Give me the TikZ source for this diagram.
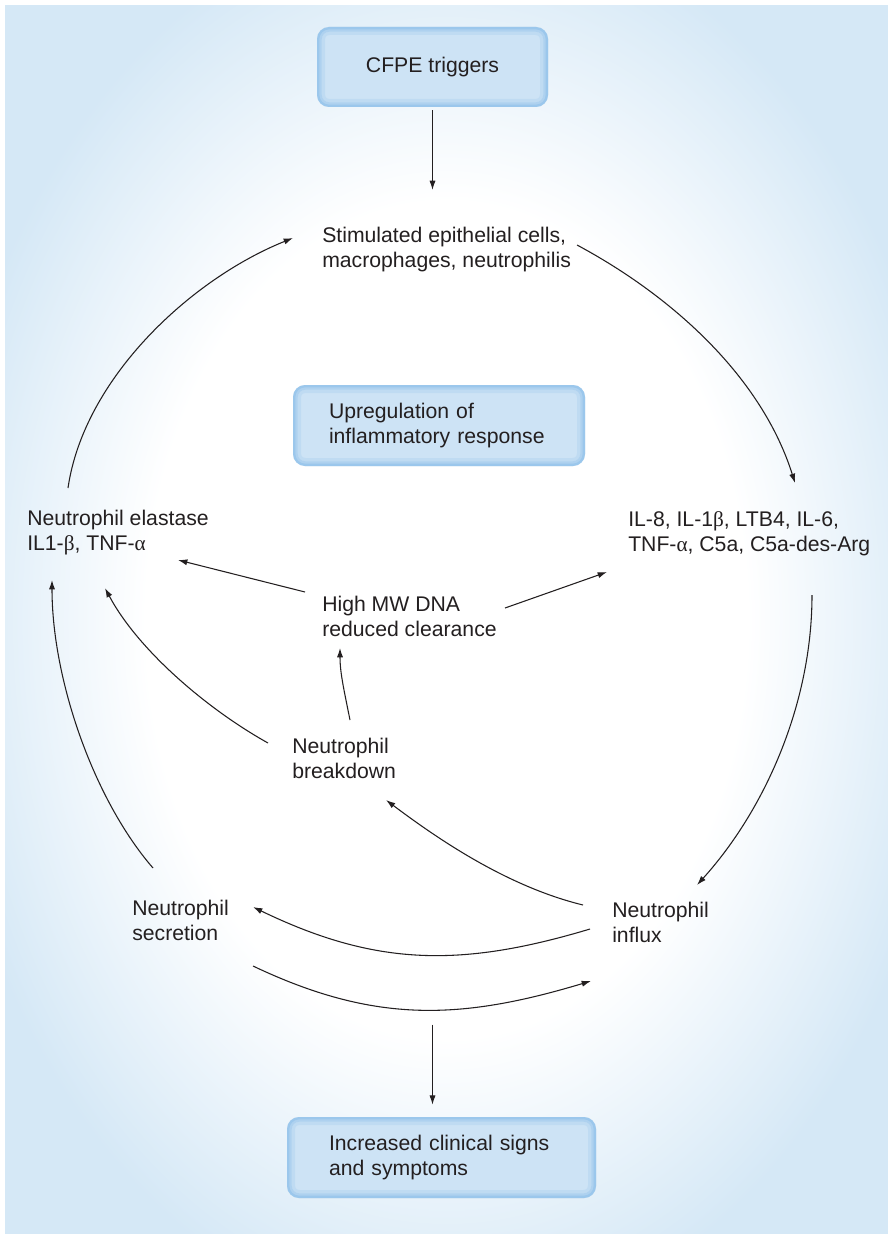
\documentclass[tikz,border=0pt]{standalone}
\usepackage{fontspec}
\setmainfont{Liberation Sans}
\newfontfamily\grkfont{Liberation Serif}
\usetikzlibrary{arrows.meta}
\definecolor{bgblue}{RGB}{213,232,246}
\definecolor{boxfill}{RGB}{205,227,245}
\definecolor{boxedge}{RGB}{115,178,230}
\definecolor{txt}{RGB}{35,31,32}
\pgfdeclareradialshading{bgshade}{\pgfpoint{0bp}{0bp}}{color(0bp)=(white); color(17bp)=(white); color(29bp)=(bgblue); color(50bp)=(bgblue)}
\newcommand{\gbeta}{{\grkfont β}}
\newcommand{\galpha}{{\grkfont α}}
\begin{document}
\begin{tikzpicture}[x=0.75pt,y=-0.75pt,
  every node/.style={text=txt, font=\fontsize{15.9}{18.75}\selectfont},
  lbl/.style={anchor=north west, align=left, inner sep=0pt},
  box/.style={rounded corners=9pt, fill=boxfill, inner sep=0pt,
    path picture={
      \foreach \w/\o in {12pt/0.15, 7pt/0.22, 3.5pt/0.32}
        \draw[boxedge, line width=\w, opacity=\o, rounded corners=9pt]
          (path picture bounding box.south west) rectangle (path picture bounding box.north east);
    }},
  arr/.style={-{Latex[length=7pt,width=4.6pt]}, line width=0.8pt, txt}]
\useasboundingbox (0,0) rectangle (888,1234);
\fill[white] (0,0) rectangle (888,1234);
\shade[shading=bgshade] (5,6) rectangle (888,1234);

% boxes
\node[box, minimum width=173.25pt, minimum height=60pt] (cfpe) at (432.5,67) {CFPE triggers};
\node[box, minimum width=219pt, minimum height=60.75pt, text width=165pt, align=left] (upreg) at (439,425.5) {Upregulation of\\inflammatory response};
\node[box, minimum width=231.75pt, minimum height=60.75pt, text width=168.75pt, align=left] (incr) at (441.5,1157.5) {Increased clinical signs\\and symptoms};

% labels
\node[lbl] (stim) at (322,226.5) {Stimulated epithelial cells,\\macrophages, neutrophilis};
\node[lbl] (elast) at (27,510) {Neutrophil elastase\\IL1-\gbeta, TNF-\galpha};
\node[lbl] (cyt) at (628,511) {IL-8, IL-1\gbeta, LTB4, IL-6,\\TNF-\galpha, C5a, C5a-des-Arg};
\node[lbl] (dna) at (322,596) {High MW DNA\\reduced clearance};
\node[lbl] (brk) at (292,738) {Neutrophil\\breakdown};
\node[lbl] (sec) at (132,900) {Neutrophil\\secretion};
\node[lbl] (inf) at (612,902) {Neutrophil\\influx};

% connectors
\draw[arr] ([shift={(0,3)}]cfpe.south) -- ([shift={(110.5,-36.5)}]stim.north west);
\draw[arr] ([shift={(255,18.5)}]stim.north west) .. controls +(97,52) and +(-33,-105) .. ([shift={(167,-28)}]cyt.north west);
\draw[arr] ([shift={(184,84)}]cyt.north west) .. controls +(0,110) and +(67,-74) .. ([shift={(85,-17)}]inf.north west);
\draw[arr] ([shift={(-29,3)}]inf.north west) .. controls +(-78,-19) and +(48,36) .. ([shift={(94,62)}]brk.north west);
\draw[arr] ([shift={(-22,27)}]inf.north west) .. controls +(-130,39) and +(122,59) .. ([shift={(121,7)}]sec.north west);
\draw[arr] ([shift={(121,66)}]sec.north west) .. controls +(122,58) and +(-130,39) .. ([shift={(-21,79)}]inf.north west);
\draw[arr] ([shift={(-9,-92)}]incr.north) -- ([shift={(-9,-12)}]incr.north);
\draw[arr] ([shift={(21,-32)}]sec.north west) .. controls +(-59,-68) and +(0,100) .. ([shift={(25,70)}]elast.north west);
\draw[arr] ([shift={(41,-22)}]elast.north west) .. controls +(16,-110) and +(-102,41) .. ([shift={(-29,11.5)}]stim.north west);
\draw[arr] ([shift={(-24,5)}]brk.north west) .. controls +(-61,-34) and +(33,62) .. ([shift={(78,78)}]elast.north west);
\draw[arr] ([shift={(58,-18)}]brk.north west) .. controls +(-6,-30) and +(0,25) .. ([shift={(18,52)}]dna.north west);
\draw[arr] ([shift={(-17,-4)}]dna.north west) -- ([shift={(151,50)}]elast.north west);
\draw[arr] ([shift={(183,12)}]dna.north west) -- ([shift={(-21,61)}]cyt.north west);
\end{tikzpicture}
\end{document}
